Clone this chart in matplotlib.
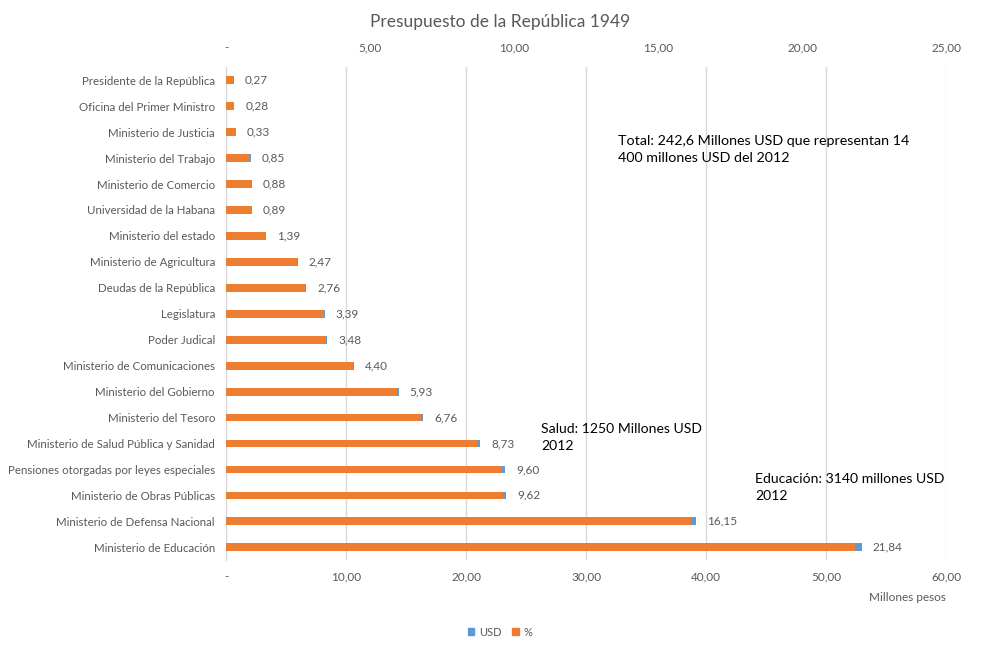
import matplotlib
matplotlib.use("Agg")
import matplotlib.pyplot as plt
from matplotlib.patches import Patch

plt.rcParams['font.family'] = ['Lato', 'DejaVu Sans']

# data
categories = [
    "Presidente de la República", "Oficina del Primer Ministro", "Ministerio de Justicia",
    "Ministerio del Trabajo", "Ministerio de Comercio", "Universidad de la Habana",
    "Ministerio del estado", "Ministerio de Agricultura", "Deudas de la República",
    "Legislatura", "Poder Judical", "Ministerio de Comunicaciones",
    "Ministerio del Gobierno", "Ministerio del Tesoro",
    "Ministerio de Salud Pública y Sanidad", "Pensiones otorgadas por leyes especiales",
    "Ministerio de Obras Públicas", "Ministerio de Defensa Nacional", "Ministerio de Educación",
]
pct = [0.27, 0.28, 0.33, 0.85, 0.88, 0.89, 1.39, 2.47, 2.76, 3.39, 3.48, 4.40,
       5.93, 6.76, 8.73, 9.60, 9.62, 16.15, 21.84]
usd = [0.66, 0.68, 0.80, 2.06, 2.13, 2.16, 3.37, 5.99, 6.70, 8.22, 8.44, 10.67,
       14.39, 16.40, 21.18, 23.29, 23.34, 39.18, 52.98]
bottom_ticks = [0, 10, 20, 30, 40, 50, 60]
top_ticks = [0, 5, 10, 15, 20, 25]

ORANGE = "#ED7D31"
BLUE = "#5B9BD5"
GRAY = "#595959"


def fmt(v):
    return "-" if v == 0 else f"{v:.2f}".replace(".", ",")


fig = plt.figure(figsize=(10, 6.53), dpi=100)
ax = fig.add_axes([0.226, 0.142, 0.72, 0.755])
ypos = list(range(len(categories)))

ax.barh(ypos, usd, height=0.3, color=BLUE, zorder=2)
ax.set_xlim(0, 60)
ax.set_ylim(len(categories) - 0.5, -0.5)
ax.set_xticks(bottom_ticks)
ax.set_xticklabels([fmt(t) for t in bottom_ticks], color=GRAY, fontsize=8.5)
ax.set_yticks(ypos)
ax.set_yticklabels(categories, color=GRAY, fontsize=8.3)
ax.tick_params(length=0, pad=8)
ax.grid(axis='x', color="#D9D9D9", linewidth=1, zorder=0)
for s in ['top', 'right', 'bottom']:
    ax.spines[s].set_visible(False)
ax.spines['left'].set_color("#D9D9D9")
ax.set_axisbelow(True)

ax2 = ax.twiny()
ax2.barh(ypos, pct, height=0.3, color=ORANGE, zorder=3)
ax2.set_xlim(0, 25)
ax2.set_xticks(top_ticks)
ax2.set_xticklabels([fmt(t) for t in top_ticks], color=GRAY, fontsize=8.5)
ax2.tick_params(length=0, pad=10)
for s in ax2.spines.values():
    s.set_visible(False)

for y, u, p in zip(ypos, usd, pct):
    ax.annotate(fmt(p), (u, y), xytext=(8, 0), textcoords='offset points',
                va='center', ha='left', fontsize=8.5, color=GRAY)

fig.text(0.5, 0.967, "Presupuesto de la República 1949", ha='center', va='center',
         fontsize=12.5, color=GRAY)
fig.text(0.946, 0.085, "Millones pesos", ha='right', va='center', fontsize=8.5, color=GRAY)

fig.text(0.618, 0.771, "Total: 242,6 Millones USD que representan 14\n400 millones USD del 2012",
         ha='left', va='center', fontsize=10.3, color='black', linespacing=1.5)
fig.text(0.541, 0.33, "Salud: 1250 Millones USD\n2012",
         ha='left', va='center', fontsize=10.1, color='black', linespacing=1.5)
fig.text(0.755, 0.2535, "Educación: 3140 millones USD\n2012",
         ha='left', va='center', fontsize=10.1, color='black', linespacing=1.5)

handles = [Patch(color=BLUE, label="USD"), Patch(color=ORANGE, label="%")]
fig.legend(handles=handles, loc='center', bbox_to_anchor=(0.5, 0.032), ncol=2,
           frameon=False, fontsize=8, handlelength=0.6, handleheight=0.6,
           handletextpad=0.4, columnspacing=1.0, labelcolor=GRAY)

fig.savefig("out.png", dpi=100)
